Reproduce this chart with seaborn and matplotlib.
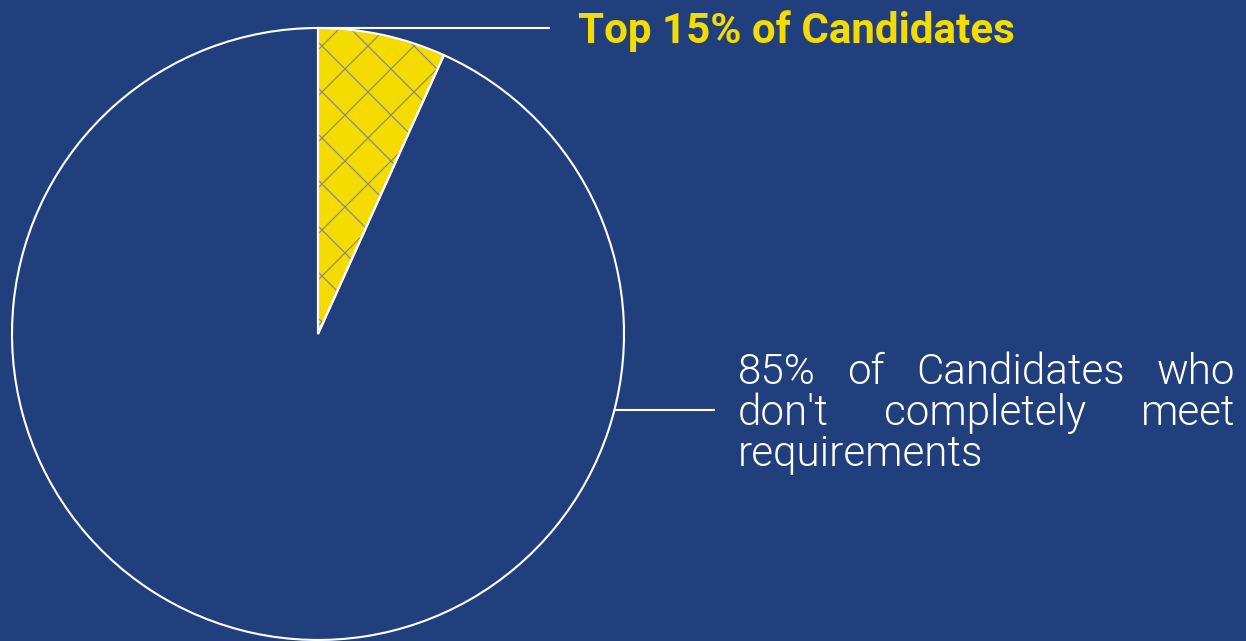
import numpy as np
import matplotlib
matplotlib.use("Agg")
import matplotlib.pyplot as plt
import seaborn as sns

# ---- data ----
categories = ["Top 15% of Candidates", "85% of Candidates who don't completely meet requirements"]
shares = [6.75, 93.25]
label_top = "Top 15% of Candidates"
label_rest_lines = [["85%", "of", "Candidates", "who"],
                    ["don't", "completely", "meet"],
                    ["requirements"]]

BG = "#213F7C"
YELLOW = "#F4DC00"
HATCH = "#858585"

sns.set_theme(style="white")
plt.rcParams["font.family"] = ["Roboto", "DejaVu Sans"]
plt.rcParams["hatch.linewidth"] = 0.6

DPI = 138
W, H = 1246, 641
fig = plt.figure(figsize=(W / DPI, H / DPI), dpi=DPI, facecolor=BG)
ax = fig.add_axes([0, 0, 1, 1])
ax.set_facecolor(BG)

cx, cy, r = 318, H - 334, 306
wedges, _ = ax.pie(shares, colors=[YELLOW, BG], startangle=90, counterclock=False,
                   center=(cx, cy), radius=r, frame=True,
                   wedgeprops=dict(edgecolor=HATCH, linewidth=0))
wedges[0].set_hatch("x")
# white outlines
ax.pie(shares, colors=["none", "none"], startangle=90, counterclock=False,
       center=(cx, cy), radius=r, frame=True,
       wedgeprops=dict(edgecolor="white", linewidth=1.1, facecolor="none"))

ax.set_xlim(0, W)
ax.set_ylim(0, H)
ax.set_aspect("equal")
ax.axis("off")

# leader line 1: from top of pie
top_x, top_y = cx, cy + r
ax.plot([top_x, 550], [top_y, top_y], color="white", lw=1.1, solid_capstyle="butt")
ax.text(578, H - 43, label_top, color=YELLOW, fontsize=22, fontweight="bold",
        ha="left", va="baseline")

# leader line 2
ang = np.deg2rad(-14.4)
px, py = cx + r * np.cos(ang), cy + r * np.sin(ang)
ax.plot([px, 715], [py, py], color="white", lw=1.1, solid_capstyle="butt")

# justified paragraph
x0, x1 = 738, 1235
baselines = [H - 384, H - 425, H - 466]
fig.canvas.draw()
renderer = fig.canvas.get_renderer()
for words, yb in zip(label_rest_lines, baselines):
    txts = [ax.text(0, yb, w, color="white", fontsize=22, fontweight=300,
                    ha="left", va="baseline") for w in words]
    fig.canvas.draw()
    widths = [t.get_window_extent(renderer).width for t in txts]
    if len(words) == 1:
        txts[0].set_x(x0)
    else:
        gap = (x1 - x0 - sum(widths)) / (len(words) - 1)
        x = x0
        for t, w in zip(txts, widths):
            t.set_x(x)
            x += w + gap

fig.savefig("out.png", dpi=DPI, facecolor=BG)
